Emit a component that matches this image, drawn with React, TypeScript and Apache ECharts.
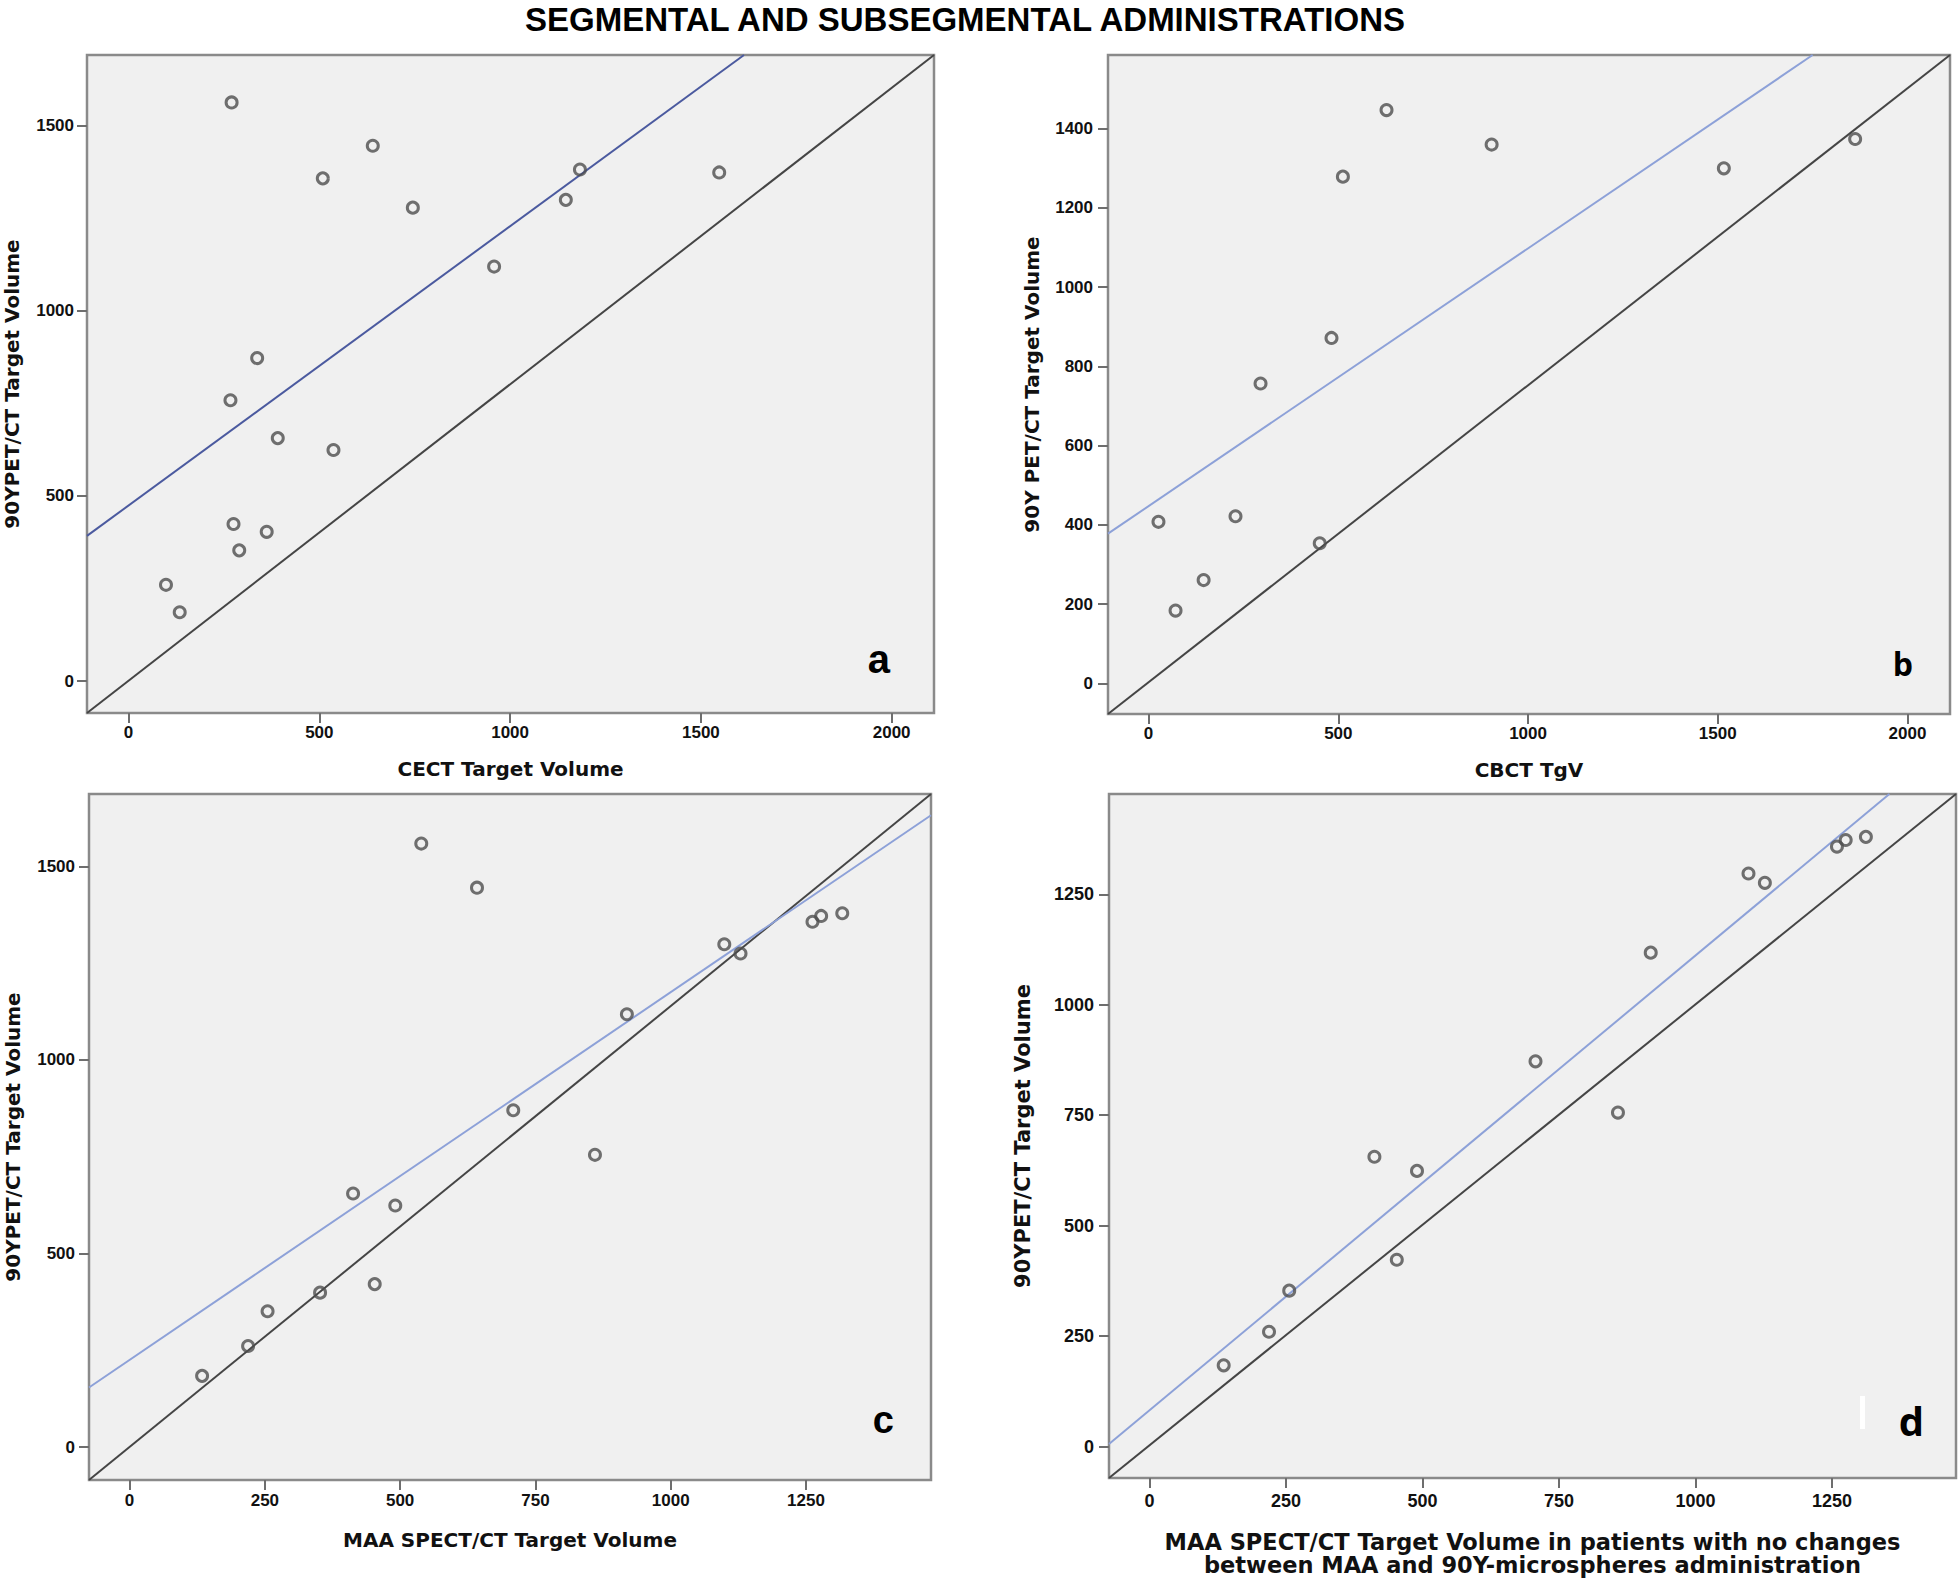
import React, { useEffect, useRef } from "react";
import * as echarts from "echarts";

// ---------- texts ----------
const mainTitle = "SEGMENTAL AND SUBSEGMENTAL ADMINISTRATIONS";
const panelLetters = ["a", "b", "c", "d"];
const xTitles = [
  "CECT Target Volume",
  "CBCT TgV",
  "MAA SPECT/CT Target Volume",
  "MAA SPECT/CT Target Volume in patients with no changes\nbetween MAA and 90Y-microspheres administration",
];
const yTitles = [
  "90YPET/CT Target Volume",
  "90Y PET/CT Target Volume",
  "90YPET/CT Target Volume",
  "90YPET/CT Target Volume",
];

// ---------- axis ranges & ticks ----------
const xRangeA = [-109, 2111];
const yRangeA = [-86, 1690];
const xRangeB = [-107, 2112];
const yRangeB = [-77, 1586];
const xRangeC = [-75, 1481];
const yRangeC = [-85, 1687];
const xRangeD = [-74, 1477];
const yRangeD = [-71, 1477];

const xTicksA = [0, 500, 1000, 1500, 2000];
const yTicksA = [0, 500, 1000, 1500];
const xTicksB = [0, 500, 1000, 1500, 2000];
const yTicksB = [0, 200, 400, 600, 800, 1000, 1200, 1400];
const xTicksC = [0, 250, 500, 750, 1000, 1250];
const yTicksC = [0, 500, 1000, 1500];
const xTicksD = [0, 250, 500, 750, 1000, 1250];
const yTicksD = [0, 250, 500, 750, 1000, 1250];

// ---------- data ----------
const xA = [270, 640, 509, 745, 1183, 1146, 1548, 958, 337, 267, 391, 537, 275, 362, 290, 98, 134];
const yA = [1562, 1445, 1357, 1278, 1381, 1299, 1373, 1119, 872, 758, 656, 624, 424, 403, 353, 260, 186];

const xB = [627, 904, 512, 1516, 1862, 482, 295, 26, 229, 451, 145, 71];
const yB = [1447, 1360, 1279, 1300, 1374, 872, 757, 408, 422, 354, 261, 184];

const xC = [539, 642, 1099, 1129, 1262, 1278, 1317, 919, 709, 860, 413, 491, 453, 352, 255, 219, 134];
const yC = [1559, 1445, 1299, 1275, 1357, 1372, 1379, 1118, 870, 755, 655, 624, 421, 399, 351, 261, 184];

const xD = [1312, 1275, 1259, 1097, 1127, 918, 707, 858, 412, 490, 453, 256, 219, 136];
const yD = [1380, 1373, 1358, 1297, 1276, 1118, 872, 756, 656, 624, 423, 353, 260, 184];

// fit line end points
const fitA = [[-109, 392], [1613, 1690]];
const fitB = [[-107, 378], [1750, 1586]];
const fitC = [[-75, 154], [1481, 1632]];
const fitD = [[-74, 6], [1355, 1477]];

// ---------- layout ----------
const grids = [
  { left: 86, top: 55, width: 848, height: 658 },
  { left: 1108, top: 55, width: 842, height: 659 },
  { left: 89, top: 794, width: 842, height: 686 },
  { left: 1109, top: 794, width: 847, height: 684 },
];

const panels = [
  { xr: xRangeA, yr: yRangeA, xt: xTicksA, yt: yTicksA, xs: xA, ys: yA, fit: fitA, fitColor: "#4b5a9f",
    xFont: 20, yFont: 20, tickFont: 17, xNameGap: 45, yNameGap: 64, xLabMargin: 11, yLabMargin: 13 },
  { xr: xRangeB, yr: yRangeB, xt: xTicksB, yt: yTicksB, xs: xB, ys: yB, fit: fitB, fitColor: "#8da1d8",
    xFont: 20, yFont: 20, tickFont: 17, xNameGap: 45, yNameGap: 65, xLabMargin: 11, yLabMargin: 15 },
  { xr: xRangeC, yr: yRangeC, xt: xTicksC, yt: yTicksC, xs: xC, ys: yC, fit: fitC, fitColor: "#8da1d8",
    xFont: 20, yFont: 20, tickFont: 17, xNameGap: 49, yNameGap: 65, xLabMargin: 12, yLabMargin: 14 },
  { xr: xRangeD, yr: yRangeD, xt: xTicksD, yt: yTicksD, xs: xD, ys: yD, fit: fitD, fitColor: "#8da1d8",
    xFont: 22.5, yFont: 21, tickFont: 18, xNameGap: 52, yNameGap: 75, xLabMargin: 14, yLabMargin: 15 },
];

const letterStyles = [
  { x: 890, y: 659, font: 'bold 40px "Liberation Sans", Arial, sans-serif' },
  { x: 1913, y: 663, font: 'bold 32px "Open Sans", sans-serif' },
  { x: 894, y: 1420, font: 'bold 38px "Liberation Sans", Arial, sans-serif' },
  { x: 1924, y: 1420, font: 'bold 40px "Open Sans", sans-serif' },
];

const AXIS_FONT = '"DejaVu Sans", Verdana, sans-serif';
const TICK_FONT = '"Liberation Sans", Arial, sans-serif';

function buildOption() {
  const xAxis: any[] = [];
  const yAxis: any[] = [];
  const series: any[] = [];
  panels.forEach((p, i) => {
    const tickLine = { color: "#6e6e6e", width: 2 };
    xAxis.push({
      gridIndex: i,
      type: "value",
      min: p.xr[0],
      max: p.xr[1],
      axisLine: { show: false, onZero: false },
      splitLine: { show: false },
      axisTick: { show: true, length: 10, customValues: p.xt, lineStyle: tickLine },
      axisLabel: {
        customValues: p.xt,
        margin: p.xLabMargin,
        fontSize: p.tickFont,
        fontWeight: "bold",
        fontFamily: TICK_FONT,
        color: "#111",
        formatter: (v: number) => String(v),
      },
      name: xTitles[i],
      nameLocation: "middle",
      nameGap: p.xNameGap,
      nameTextStyle: {
        fontFamily: AXIS_FONT,
        fontWeight: "bold",
        fontSize: p.xFont,
        lineHeight: p.xFont + 1,
        color: "#111",
        align: "center",
      },
    });
    yAxis.push({
      gridIndex: i,
      type: "value",
      min: p.yr[0],
      max: p.yr[1],
      axisLine: { show: false, onZero: false },
      splitLine: { show: false },
      axisTick: { show: true, length: 10, customValues: p.yt, lineStyle: tickLine },
      axisLabel: {
        customValues: p.yt,
        margin: p.yLabMargin,
        fontSize: p.tickFont,
        fontWeight: "bold",
        fontFamily: TICK_FONT,
        color: "#111",
        formatter: (v: number) => String(v),
      },
      name: yTitles[i],
      nameLocation: "middle",
      nameGap: p.yNameGap,
      nameTextStyle: {
        fontFamily: AXIS_FONT,
        fontWeight: "bold",
        fontSize: p.yFont,
        lineHeight: p.yFont + 2,
        color: "#111",
      },
    });
    // reference diagonal (corner to corner)
    series.push({
      type: "line",
      xAxisIndex: i,
      yAxisIndex: i,
      data: [[p.xr[0], p.yr[0]], [p.xr[1], p.yr[1]]],
      symbol: "none",
      lineStyle: { color: "#454545", width: 2 },
      silent: true,
      z: 3,
    });
    // fit line
    series.push({
      type: "line",
      xAxisIndex: i,
      yAxisIndex: i,
      data: p.fit,
      symbol: "none",
      clip: true,
      lineStyle: { color: p.fitColor, width: 2 },
      silent: true,
      z: 3,
    });
    // points
    series.push({
      type: "scatter",
      xAxisIndex: i,
      yAxisIndex: i,
      data: p.xs.map((x, k) => [x, p.ys[k]]),
      symbol: "circle",
      symbolSize: 11,
      itemStyle: { color: "rgba(240,240,240,0)", borderColor: "#4d4d4d", borderWidth: 3 },
      silent: true,
      z: 5,
    });
  });

  const graphic: any[] = [
    {
      type: "text",
      x: 965,
      y: 19,
      style: {
        text: mainTitle,
        fill: "#000",
        font: 'bold 33px "Liberation Sans", Arial, sans-serif',
        textAlign: "center",
        textVerticalAlign: "middle",
        align: "center",
        verticalAlign: "middle",
      },
      z: 10,
    },
    { type: "rect", shape: { x: 1860, y: 1396, width: 5, height: 33 }, style: { fill: "#ffffff" }, z: 10 },
  ];
  panelLetters.forEach((t, i) => {
    const s = letterStyles[i];
    graphic.push({
      type: "text",
      x: s.x,
      y: s.y,
      style: {
        text: t,
        fill: "#000",
        font: s.font,
        textAlign: "right",
        textVerticalAlign: "middle",
        align: "right",
        verticalAlign: "middle",
      },
      z: 10,
    });
  });

  return {
    animation: false,
    backgroundColor: "#ffffff",
    grid: grids.map((g) => ({
      ...g,
      show: true,
      backgroundColor: "#f0f0f0",
      borderColor: "#8a8a8a",
      borderWidth: 2.5,
      containLabel: false,
    })),
    xAxis,
    yAxis,
    series,
    graphic,
  };
}

export default function App() {
  const ref = useRef<HTMLDivElement>(null);
  useEffect(() => {
    if (!ref.current) return;
    const chart = echarts.init(ref.current, undefined, { renderer: "svg" });
    chart.setOption(buildOption() as any);
    return () => chart.dispose();
  }, []);
  return (
    <div
      ref={ref}
      style={{ position: "absolute", left: 0, top: 0, width: 1959, height: 1578, background: "#fff" }}
    />
  );
}
